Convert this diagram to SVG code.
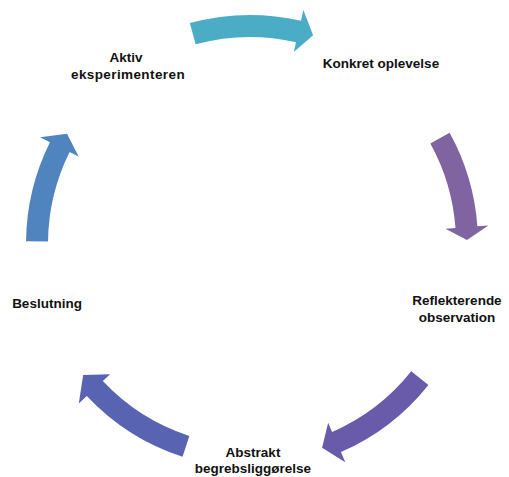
<svg xmlns="http://www.w3.org/2000/svg" width="509" height="477" viewBox="0 0 509 477">
<style>
.lbl{font-family:"Liberation Sans",Arial,sans-serif;font-weight:bold;font-size:13.5px;fill:#111;text-anchor:middle}
</style>
<rect width="509" height="477" fill="#fff"/>
<g id="connectors">
<path id="arrow-top" fill="#4BACC6" d="M189.83,23.07 A228,228 0 0 1 300.91,20.75 L303.37,10.02 L313.08,35.37 L293.77,51.94 L296.0,42.19 A206,206 0 0 0 195.64,44.29 Z"/>
<path id="arrow-right" fill="#8064A2" d="M449.61,132.81 A228,228 0 0 1 477.39,226.30 L488.36,225.50 L466.98,239.97 L445.47,228.64 L455.45,227.91 A206,206 0 0 0 430.35,143.44 Z"/>
<path id="arrow-bottomright" fill="#6A5BAA" d="M428.43,384.93 A228,228 0 0 1 340.90,452.10 L345.29,462.19 L322.09,447.67 L328.15,422.75 L332.13,431.92 A206,206 0 0 0 411.22,371.24 Z"/>
<path id="arrow-bottomleft" fill="#5864B1" transform="translate(3,-3)" d="M179.55,459.85 A228,228 0 0 1 83.79,399.07 L75.77,406.60 L80.18,378.08 L107.12,377.16 L99.83,384.01 A206,206 0 0 0 186.35,438.93 Z"/>
<path id="arrow-left" fill="#4F84BF" transform="translate(4,1)" d="M22.02,240.21 A228,228 0 0 1 45.96,141.27 L36.12,136.36 L63.03,132.87 L74.60,155.54 L65.65,151.08 A206,206 0 0 0 44.02,240.48 Z"/>
</g>
<g id="node-konkret"><text class="lbl" x="381" y="68">Konkret oplevelse</text></g>
<g id="node-reflekterende"><text class="lbl" x="457" y="305">Reflekterende</text><text class="lbl" x="457" y="322">observation</text></g>
<g id="node-abstrakt"><text class="lbl" x="253" y="457">Abstrakt</text><text class="lbl" x="253" y="473">begrebsliggørelse</text></g>
<g id="node-beslutning"><text class="lbl" x="47" y="308">Beslutning</text></g>
<g id="node-aktiv"><text class="lbl" x="126" y="62">Aktiv</text><text class="lbl" x="128" y="79" letter-spacing="0.4">eksperimenteren</text></g>
</svg>
